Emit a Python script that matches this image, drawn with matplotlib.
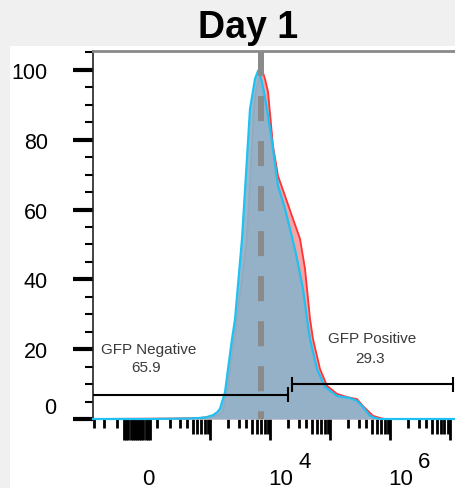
import numpy as np
import matplotlib
matplotlib.use("Agg")
import matplotlib.pyplot as plt
from matplotlib.transforms import blended_transform_factory
from matplotlib.patches import Rectangle

plt.rcParams['font.family'] = ['Liberation Sans', 'DejaVu Sans']

# ---------------- data ----------------
title = "Day 1"

blue_x = [-314, 62, 451, 811, 1106, 1290, 1448, 1756, 1970, 2298, 2580, 3374, 4585,
          5557, 6235, 6479, 7554, 8807, 10670, 13435, 17574, 21288, 26802, 35064,
          40878, 45852, 60000, 81540, 129240, 212880, 278520, 350640, 458520,
          555660, 673200, 1.244e7]
blue_y = [0, 0, 0.15, 0.4, 1.1, 1.9, 2.9, 7.7, 14.3, 22.9, 28.6, 51.6, 88.8,
          97.4, 99.7, 100, 95, 88.8, 79.4, 66.8, 60.2, 54.4, 47.3, 37.2,
          28.7, 22.9, 14.3, 9.2, 6.6, 6.0, 5.2, 3.4, 0.9,
          0.3, 0, 0]

red_x = [-314, 244, 451, 668, 1106, 1341, 1626, 1970, 2388, 2785, 4088, 5348, 5774,
         6732, 7271, 8156, 9152, 11085, 13435, 17574, 23886, 31248, 37860, 45852,
         51450, 67320, 88080, 129240, 189720, 278520, 350640, 514620, 673200,
         815640, 1.244e7]
red_y = [0, 0.15, 0.2, 0.3, 0.8, 1.1, 2.0, 9.5, 20.9, 28.6, 51.6, 88.8, 94,
         99, 100, 97.4, 93.7, 78.2, 69.6, 63.9, 57.3, 51.6, 43, 28.7,
         22.9, 14.3, 9.5, 7.2, 6.3, 5.7, 3.7, 0.9, 0.3,
         0, 0]

median_line = 7000

neg_gate = [-314, 19340]
pos_gate = [22990, 1.11e7]
neg_gate_y = 7.0
pos_gate_y = 9.9
gate_cap = 2.15
neg_label = ["GFP Negative", "65.9"]
pos_label = ["GFP Positive", "29.3"]

y_ticks = [0, 20, 40, 60, 80, 100]
y_minor = [v for v in range(5, 106, 5) if v % 20 != 0]
x_limits = [-314, 1.244e7]
y_limits = [0, 105.4]

zero_cluster = list(range(-60, 61, 10))
long_ticks = zero_cluster + [1e3, 1e4, 1e5, 1e6, 1e7]
short_ticks = [-300, -200, -100, 100, 200, 300, 400] + \
    [m * 10 ** k for k in range(3, 7) for m in (2, 3, 4)]
medium_ticks = [500, 600, 700, 800, 900] + \
    [m * 10 ** k for k in range(3, 7) for m in (5, 6, 7, 8, 9)]
x_labels = [(0, "0", None), (1e4, "10", "4"), (1e6, "10", "6")]

# ---------------- figure ----------------
W, H = 456, 489
fig = plt.figure(figsize=(W / 100, H / 100), dpi=100, facecolor='#f0f0f0')
fig.add_artist(Rectangle((10 / W, 0), 1 - 10 / W, (H - 47) / H,
                         transform=fig.transFigure, facecolor='white',
                         edgecolor='none', zorder=0))

ax_l, ax_r, ax_t, ax_b = 93, 456, 52, 420
ax = fig.add_axes([ax_l / W, 1 - ax_b / H, (ax_r - ax_l) / W, (ax_b - ax_t) / H])
ax.set_facecolor('white')

c = 120.0
def fwd(x):
    return np.arcsinh(np.asarray(x, dtype=float) / c) / np.log(10)
def inv(u):
    return c * np.sinh(np.asarray(u, dtype=float) * np.log(10))

ax.set_xscale('function', functions=(fwd, inv))
ax.set_xlim(*x_limits)
ax.set_ylim(*y_limits)

# histograms
ax.fill_between(red_x, red_y, color='#f6a3a3', lw=0, zorder=2)
ax.plot(red_x, red_y, color='#ff3535', lw=1.3, zorder=3, clip_on=False)
ax.fill_between(blue_x, blue_y, color='#8db3ca', alpha=0.93, lw=0, zorder=4)
ax.plot(blue_x, blue_y, color='#1fc0f2', lw=1.6, zorder=5, clip_on=False)

# median dashed line (drawn top to bottom)
bt = blended_transform_factory(ax.transData, ax.transAxes)
ax.plot([median_line, median_line], [1, 0], transform=bt, color='#8a8a8a',
        lw=4.3, linestyle=(0, (4.19, 3.35)), solid_capstyle='butt',
        dash_capstyle='butt', zorder=6)

# gates
ax.plot(neg_gate, [neg_gate_y] * 2, color='black', lw=1.5, zorder=7)
ax.vlines([neg_gate[1]], neg_gate_y - gate_cap, neg_gate_y + gate_cap,
          color='black', lw=1.5, zorder=7)
ax.plot(pos_gate, [pos_gate_y] * 2, color='black', lw=1.5, zorder=7)
ax.vlines(pos_gate, pos_gate_y - gate_cap, pos_gate_y + gate_cap,
          color='black', lw=1.5, zorder=7)

tc = '#3a3a3a'
ax.text(57, 20.1, neg_label[0], ha='center', va='center', fontsize=11, color=tc, zorder=8)
ax.text(42, 14.9, neg_label[1], ha='center', va='center', fontsize=11, color=tc, zorder=8)
ax.text(495000, 23.2, pos_label[0], ha='center', va='center', fontsize=11, color=tc, zorder=8)
ax.text(460000, 17.5, pos_label[1], ha='center', va='center', fontsize=11, color=tc, zorder=8)

# spines
ax.spines['right'].set_visible(False)
ax.spines['bottom'].set_visible(False)
ax.spines['top'].set_color('#8a8a8a')
ax.spines['top'].set_linewidth(2)
ax.spines['left'].set_color('#222222')
ax.spines['left'].set_linewidth(1.2)

# y ticks
ax.set_yticks(y_ticks)
ax.set_yticklabels([''] + [str(v) for v in y_ticks[1:]])
ax.set_yticks(y_minor, minor=True)
ax.tick_params(axis='y', which='major', length=14.5, width=3, color='black',
               labelsize=15.5, pad=18)
ax.tick_params(axis='y', which='minor', length=6, width=1.5, color='black')
ax.annotate('0', xy=(0, 0), xycoords='axes fraction', xytext=(-37, 12),
            textcoords='offset pixels', ha='right', va='center', fontsize=15.5)

# x ticks
ax.set_xticks(long_ticks)
ax.set_xticks(short_ticks, minor=True)
ax.tick_params(axis='x', which='major', length=15, width=2, color='black',
               labelbottom=False)
ax.tick_params(axis='x', which='minor', length=6.5, width=2, color='black',
               labelbottom=False)
med_len = 15 / (ax_b - ax_t)
ax.vlines(medium_ticks, 0, -med_len, transform=bt, color='black', lw=2,
          clip_on=False, zorder=1)

for val, base, exp in x_labels:
    if exp is None:
        ax.annotate(base, xy=(val, 0), xycoords=bt, xytext=(11, -65),
                    textcoords='offset pixels', ha='center', va='baseline',
                    fontsize=16)
    else:
        ax.annotate(base, xy=(val, 0), xycoords=bt, xytext=(-2, -65),
                    textcoords='offset pixels', ha='left', va='baseline',
                    fontsize=16)
        ax.annotate(exp, xy=(val, 0), xycoords=bt, xytext=(28, -48),
                    textcoords='offset pixels', ha='left', va='baseline',
                    fontsize=16)

fig.text(248 / W, 1 - 38 / H, title, ha='center', va='baseline',
         fontsize=27, fontweight='bold')

fig.savefig('out.png', dpi=100, facecolor=fig.get_facecolor())
